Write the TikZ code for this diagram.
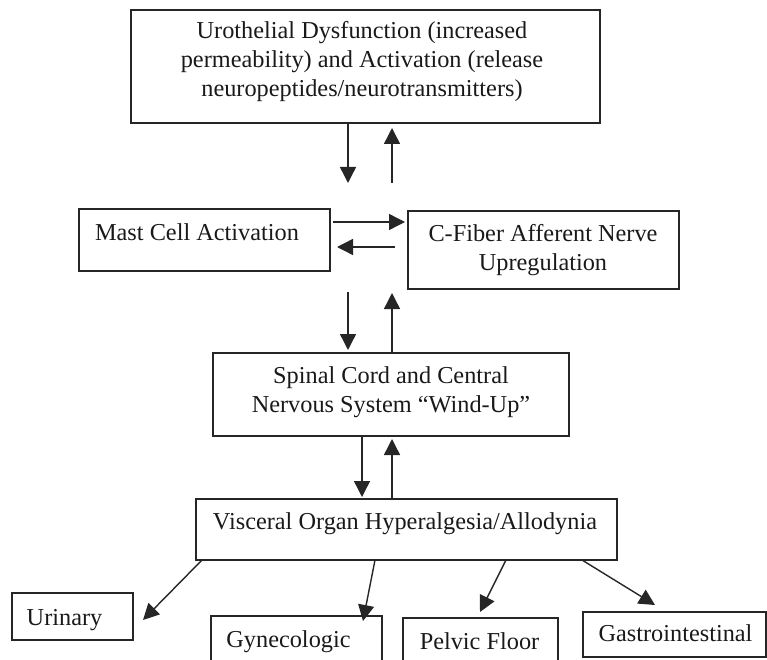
\documentclass[tikz,border=0pt]{standalone}
\usepackage{fontspec}
\setmainfont{Liberation Serif}
\usetikzlibrary{arrows.meta}
\begin{document}
\begin{tikzpicture}[x=1pt,y=-1pt,
  box/.style={draw=black!85, line width=1.4pt, rectangle, inner sep=0pt, outer sep=0pt},
  txt/.style={inner sep=0pt, outer sep=0pt, text=black!90, font=\fontsize{24.3}{29}\selectfont, align=center},
  arr/.style={draw=black!85, line width=1.4pt, -{Triangle[length=16pt,width=16pt]}}]
\useasboundingbox (0,0) rectangle (767,660);
\clip (0,0) rectangle (767,660);

% boxes
\node[box, minimum width=469pt, minimum height=113pt] (top) at (365.5,66.5) {};
\node[box, minimum width=251pt, minimum height=62pt] (mast) at (204.5,240) {};
\node[box, minimum width=271pt, minimum height=78pt] (cfib) at (543.5,250) {};
\node[box, minimum width=356pt, minimum height=83pt] (spinal) at (391,394.5) {};
\node[box, minimum width=421pt, minimum height=61pt] (visc) at (406.5,529.5) {};
\node[box, minimum width=121pt, minimum height=47pt] (urin) at (72.5,616.5) {};
\node[box, minimum width=171pt, minimum height=74pt] (gyn) at (296.5,653) {};
\node[box, minimum width=155pt, minimum height=72pt] (pelv) at (480.5,654) {};
\node[box, minimum width=183pt, minimum height=45pt] (gast) at (674.5,634.5) {};

% texts
\node[txt] (toptxt) at (362,62) {Urothelial Dysfunction (increased\\permeability) and Activation (release\\neuropeptides/neurotransmitters)};
\node[txt, anchor=base] (masttxt) at (197,240) {Mast Cell Activation};
\node[txt] (cfibtxt) at (543,250) {C-Fiber Afferent Nerve\\Upregulation};
\node[txt] (spinaltxt) at (391,392) {Spinal Cord and Central\\Nervous System “Wind-Up”};
\node[txt, anchor=base] (visctxt) at (405,529) {Visceral Organ Hyperalgesia/Allodynia};
\node[txt, anchor=base] (urintxt) at (64.5,625) {Urinary};
\node[txt, anchor=base] (gyntxt) at (288.5,647) {Gynecologic};
\node[txt, anchor=base] (pelvtxt) at (479.5,649) {Pelvic Floor};
\node[txt, anchor=base] (gasttxt) at (675.5,641) {Gastrointestinal};

% arrow end points
\coordinate (d1e) at (348,183);
\coordinate (u1s) at (392,183);
\coordinate (u1e) at (392,128);
\coordinate (r1s) at (333,222);
\coordinate (r1e) at (405,222);
\coordinate (l1s) at (395,247);
\coordinate (l1e) at (337,247);
\coordinate (d2s) at (348,292);
\coordinate (d2e) at (348,350);
\coordinate (u2e) at (392,293);
\coordinate (d3e) at (362,497);
\coordinate (u3e) at (392,439);
\coordinate (o1s) at (202,560);
\coordinate (o1e) at (143,620);
\coordinate (o2s) at (375,560);
\coordinate (o2e) at (363,621);
\coordinate (o3s) at (506,560);
\coordinate (o3e) at (480,612);
\coordinate (o4s) at (582,560);
\coordinate (o4e) at (655,605);

% connectors
\draw[arr] (top.south -| d1e) -- (d1e);
\draw[arr] (u1s) -- (u1e);
\draw[arr] (r1s) -- (r1e);
\draw[arr] (l1s) -- (l1e);
\draw[arr] (d2s) -- (d2e);
\draw[arr] (spinal.north -| u2e) -- (u2e);
\draw[arr] (spinal.south -| d3e) -- (d3e);
\draw[arr] (visc.north -| u3e) -- (u3e);
\draw[arr] (visc.south -| o1s) -- (o1e);
\draw[arr] (visc.south -| o2s) -- (o2e);
\draw[arr] (visc.south -| o3s) -- (o3e);
\draw[arr] (visc.south -| o4s) -- (o4e);
\end{tikzpicture}
\end{document}
